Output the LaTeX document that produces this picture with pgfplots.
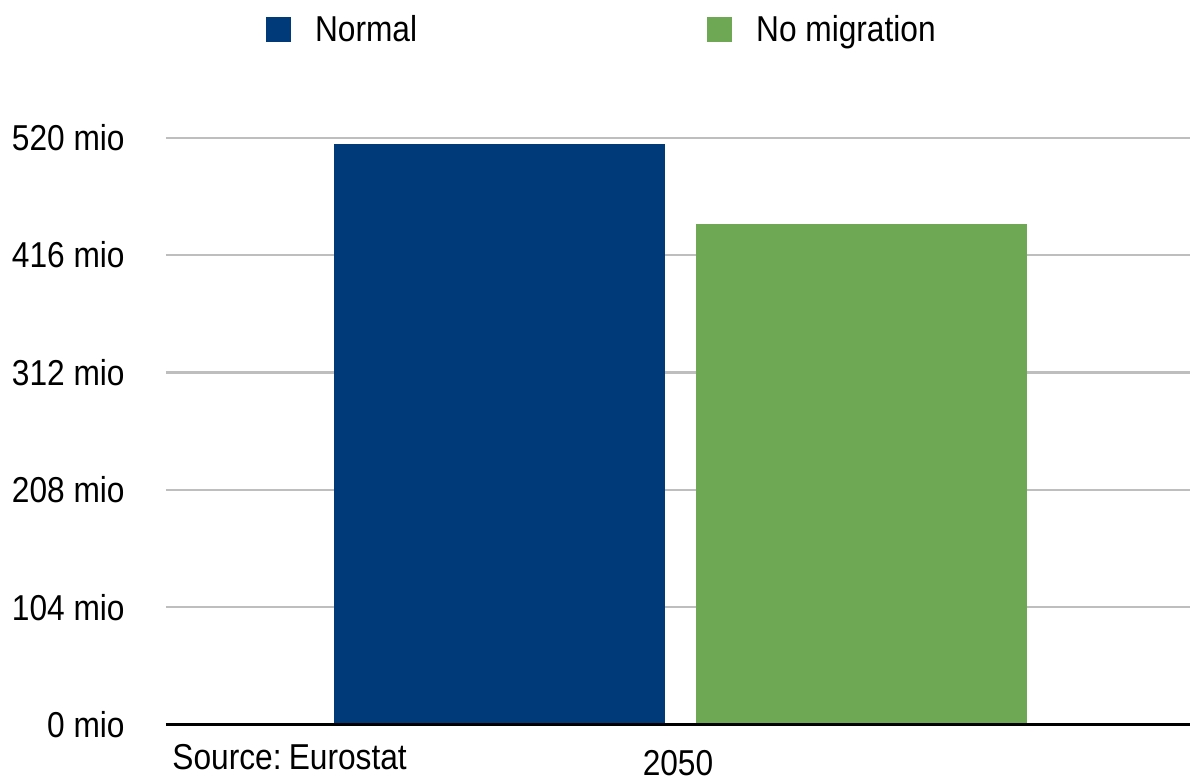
\documentclass[border=0pt]{standalone}
\usepackage{fontspec}
\setmainfont{Liberation Sans}[FakeStretch=0.88]
\usepackage{pgfplots}
\pgfplotsset{compat=1.18}

\definecolor{normalblue}{RGB}{0,58,120}
\definecolor{nomiggreen}{RGB}{111,168,84}
\definecolor{gridgray}{RGB}{190,190,190}

\begin{document}
\begin{tikzpicture}[font=\fontsize{18pt}{21.6pt}\selectfont]
\useasboundingbox (0,0) rectangle (595pt,389pt);
\begin{axis}[
  at={(83pt,26.75pt)}, anchor=south west,
  scale only axis, width=512pt, height=293.4pt,
  xmin=-512, xmax=512, ymin=0, ymax=520,
  clip=false,
  axis line style={draw=none},
  major tick length=0pt,
  ytick={0,104,208,312,416,520},
  yticklabel={\pgfmathprintnumber{\tick}~mio},
  yticklabel style={anchor=east, inner sep=0pt, xshift=-20.5pt},
  xtick={0}, xticklabels={2050},
  xticklabel style={anchor=north, inner sep=0pt, yshift=-12.5pt},
  /pgf/number format/assume math mode=true,
  ymajorgrids,
  grid style={gridgray, line width=1.15pt},
  legend columns=2,
  legend style={draw=none, fill=none, inner sep=0pt, outer sep=0pt,
    at={(rel axis cs:0.0977,1.1844)}, anchor=west,
    nodes={inner sep=0pt},
    /tikz/every odd column/.append style={column sep=12pt},
    /tikz/every even column/.append style={column sep=145pt}},
  legend cell align=left,
]
\addplot[ybar, bar width=165.5pt, bar shift=-89.25pt, fill=normalblue, draw=none,
  legend image code/.code={\fill[normalblue] (0pt,-6.25pt) rectangle (12.5pt,6.25pt);}]
  coordinates {(0,514.4)};
\addlegendentry{Normal}
\addplot[ybar, bar width=165.5pt, bar shift=91.75pt, fill=nomiggreen, draw=none,
  legend image code/.code={\fill[nomiggreen] (0pt,-6.25pt) rectangle (12.5pt,6.25pt);}]
  coordinates {(0,443.5)};
\addlegendentry{No migration}
% baseline of the value axis
\draw[black, line width=1.35pt] (rel axis cs:0,0) -- (rel axis cs:1,0);
\node[anchor=north west, inner sep=0pt, xshift=3pt, yshift=-9.75pt]
  at (rel axis cs:0,0) {Source:\hspace{0.2em}Eurostat};
\end{axis}
\end{tikzpicture}
\end{document}
